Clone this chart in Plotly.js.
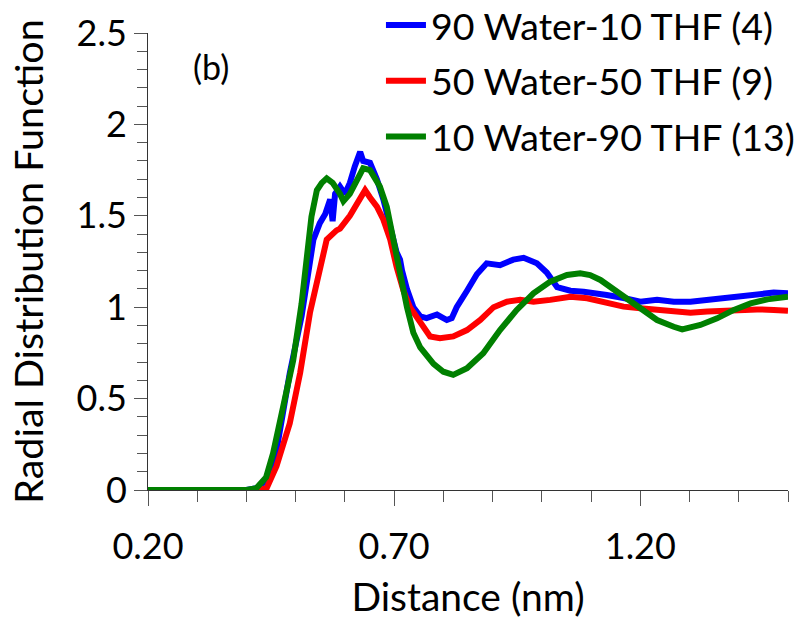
<!DOCTYPE html>
<html>
<head>
<meta charset="utf-8">
<script src="https://cdn.plot.ly/plotly-3.0.1.min.js"></script>
<style>html,body{margin:0;padding:0;background:#fff;}#chart{width:797px;height:620px;}</style>
</head>
<body>
<div id="chart"></div>
<script>
// Series names
const seriesNames = ["90 Water-10 THF (4)", "50 Water-50 THF (9)", "10 Water-90 THF (13)"];

// 90 Water-10 THF (blue)
const distBlue = [0.20,0.40,0.42,0.44,0.46,0.488,0.512,0.526,0.536,0.549,0.560,0.570,0.575,0.580,0.590,0.600,0.610,0.620,0.631,0.637,0.651,0.665,0.678,0.692,0.705,0.712,0.716,0.726,0.739,0.753,0.766,0.787,0.807,0.817,0.827,0.848,0.868,0.888,0.915,0.942,0.963,0.990,1.010,1.031,1.058,1.085,1.119,1.132,1.166,1.200,1.234,1.268,1.302,1.336,1.369,1.403,1.437,1.471,1.500];
const rdfBlue  = [0,0,0.01,0.05,0.20,0.64,0.95,1.18,1.37,1.46,1.51,1.59,1.47,1.62,1.66,1.62,1.68,1.77,1.85,1.80,1.79,1.70,1.59,1.44,1.30,1.26,1.20,1.10,1.00,0.95,0.94,0.96,0.93,0.94,1.00,1.09,1.18,1.24,1.23,1.26,1.27,1.24,1.19,1.11,1.09,1.085,1.076,1.067,1.05,1.03,1.04,1.03,1.03,1.04,1.05,1.067,1.076,1.08,1.076];

// 50 Water-50 THF (red)
const distRed = [0.20,0.42,0.441,0.461,0.488,0.509,0.529,0.549,0.563,0.583,0.590,0.610,0.631,0.641,0.651,0.665,0.678,0.692,0.705,0.719,0.732,0.753,0.773,0.793,0.820,0.848,0.875,0.902,0.929,0.956,0.983,1.017,1.058,1.092,1.119,1.132,1.166,1.200,1.234,1.268,1.302,1.336,1.369,1.403,1.437,1.471,1.500];
const rdfRed  = [0,0,0.01,0.13,0.365,0.64,0.97,1.22,1.37,1.42,1.43,1.50,1.59,1.64,1.60,1.55,1.48,1.37,1.22,1.09,1.00,0.92,0.84,0.83,0.84,0.875,0.93,1.00,1.03,1.04,1.03,1.04,1.057,1.049,1.03,1.02,1.003,0.994,0.985,0.976,0.97,0.976,0.98,0.985,0.988,0.985,0.98];

// 10 Water-90 THF (green)
const distGreen = [0.20,0.40,0.42,0.44,0.454,0.475,0.495,0.512,0.522,0.532,0.543,0.553,0.563,0.575,0.590,0.597,0.610,0.624,0.637,0.651,0.671,0.685,0.698,0.712,0.726,0.739,0.753,0.780,0.800,0.820,0.848,0.881,0.915,0.949,0.983,1.017,1.051,1.078,1.098,1.119,1.139,1.166,1.200,1.234,1.268,1.285,1.322,1.356,1.390,1.424,1.458,1.500];
const rdfGreen  = [0,0,0.01,0.07,0.20,0.456,0.71,1.02,1.26,1.495,1.64,1.68,1.705,1.68,1.62,1.58,1.62,1.70,1.76,1.75,1.66,1.55,1.37,1.185,1.00,0.86,0.78,0.69,0.647,0.63,0.666,0.748,0.875,0.985,1.076,1.14,1.176,1.185,1.176,1.149,1.11,1.057,0.994,0.93,0.893,0.879,0.903,0.939,0.985,1.021,1.043,1.057];

const xTickVals = [0.20, 0.70, 1.20];
const xTickText = ["0.20", "0.70", "1.20"];
const yTickVals = [0, 0.5, 1, 1.5, 2, 2.5];
const yTickText = ["0", "0.5", "1", "1.5", "2", "2.5"];

const colors = ["#0000FF", "#FF0000", "#008000"];
const FONT = "Lato, 'Open Sans', sans-serif";

const traces = [
  {x: distBlue, y: rdfBlue, name: seriesNames[0], legendgroup: "a"},
  {x: distRed, y: rdfRed, name: seriesNames[1], legendgroup: "b"},
  {x: distGreen, y: rdfGreen, name: seriesNames[2], legendgroup: "c"}
].map((t, i) => Object.assign(t, {
  type: "scatter", mode: "lines",
  line: {color: colors[i], width: 6, shape: "linear"}
}));

const layout = {
  width: 797, height: 620,
  margin: {l: 148, r: 9, t: 33, b: 130, autoexpand: false},
  paper_bgcolor: "#fff", plot_bgcolor: "#fff",
  font: {family: FONT, color: "#000"},
  showlegend: true,
  legend: {
    x: 0.364, y: 1.085, xanchor: "left", yanchor: "top",
    font: {family: FONT, size: 37.5, color: "#000"},
    bgcolor: "rgba(0,0,0,0)", borderwidth: 0,
    tracegroupgap: 4, itemwidth: 40
  },
  xaxis: {
    range: [0.2, 1.5],
    tickmode: "array", tickvals: xTickVals, ticktext: xTickText,
    ticks: "outside", ticklen: 15, tickwidth: 1, tickcolor: "#555",
    minor: {dtick: 0.1, tick0: 0.2, ticks: "outside", ticklen: 11, tickwidth: 1, tickcolor: "#555", showgrid: false},
    showgrid: false, zeroline: false,
    showline: true, linecolor: "#333", linewidth: 1,
    tickfont: {family: FONT, size: 36, color: "#000"},
    ticklabelstandoff: 10,
    title: {text: "Distance (nm)", font: {family: FONT, size: 39, color: "#000"}, standoff: 17}
  },
  yaxis: {
    range: [0, 2.5],
    tickmode: "array", tickvals: yTickVals, ticktext: yTickText,
    ticks: "outside", ticklen: 13, tickwidth: 1, tickcolor: "#555",
    minor: {dtick: 0.1, tick0: 0, ticks: "outside", ticklen: 10, tickwidth: 1, tickcolor: "#555", showgrid: false},
    showgrid: false, zeroline: false,
    showline: true, linecolor: "#333", linewidth: 1,
    tickfont: {family: FONT, size: 36, color: "#000"},
    ticklabelstandoff: 0,
    title: {text: "Radial Distribution Function", font: {family: FONT, size: 39.5, color: "#000"}, standoff: 20}
  },
  annotations: [{
    text: "(b)", xref: "paper", yref: "paper", x: 0.098, y: 0.926,
    xanchor: "center", yanchor: "middle", showarrow: false,
    font: {family: FONT, size: 34, color: "#000"}
  }]
};

Plotly.newPlot("chart", traces, layout, {displayModeBar: false, staticPlot: true});
</script>
</body>
</html>
